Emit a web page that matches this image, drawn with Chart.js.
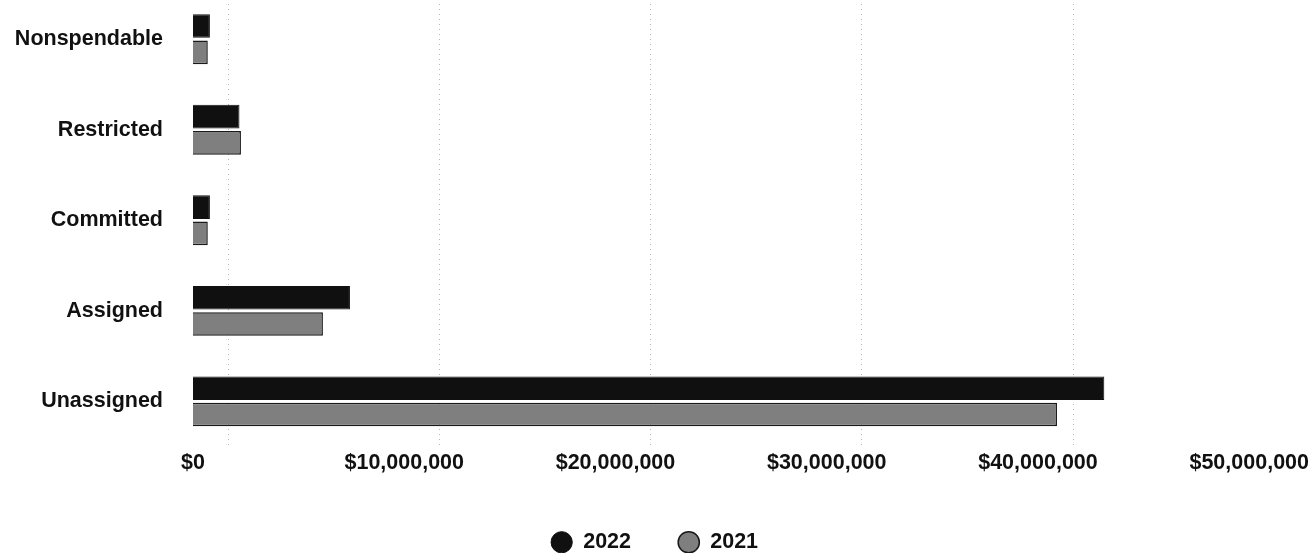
<!DOCTYPE html>
<html>
<head>
<meta charset="utf-8">
<script src="https://cdn.jsdelivr.net/npm/chart.js@4/dist/chart.umd.min.js"></script>
<style>
  body { margin: 0; background: #fff; overflow: hidden; }
  #wrap { position: absolute; left: 0; top: -49px; width: 1312px; height: 612px; }
</style>
</head>
<body>
<div id="wrap"><canvas id="fundBalanceChart"></canvas></div>
<script>
const categories = ["Nonspendable", "Restricted", "Committed", "Assigned", "Unassigned"];
const values2022 = [800000, 2200000, 800000, 7430000, 43140000];
const values2021 = [700000, 2270000, 700000, 6150000, 40900000];
const tickValues = [0, 10000000, 20000000, 30000000, 40000000, 50000000];
// the scanned gridlines sit a bit to the right of the tick labels
const gridShift = 1660000;

const font = { family: "'Liberation Sans', Arial, sans-serif", size: 21.5, weight: "bold" };
const textColor = "#111";

new Chart(document.getElementById("fundBalanceChart"), {
  type: "bar",
  data: {
    labels: categories,
    datasets: [
      {
        label: "2022",
        data: values2022,
        backgroundColor: "#101010",
        borderColor: "#101010",
        borderWidth: 1,
        categoryPercentage: 0.58,
        barPercentage: 0.9,
      },
      {
        label: "2021",
        data: values2021,
        backgroundColor: "#7f7f7f",
        borderColor: "#1a1a1a",
        borderWidth: 1.5,
        categoryPercentage: 0.58,
        barPercentage: 0.9,
      },
    ],
  },
  options: {
    indexAxis: "y",
    responsive: true,
    maintainAspectRatio: false,
    animation: false,
    layout: { padding: { left: 0, right: 3 } },
    scales: {
      x: {
        type: "linear",
        min: tickValues[0],
        max: tickValues[tickValues.length - 1],
        grid: { display: false, drawTicks: false },
        border: { display: false },
        afterBuildTicks: (scale) => {
          scale.ticks = tickValues.map((v) => ({ value: v }));
        },
        afterFit: (scale) => {
          scale.height += 6;
        },
        ticks: {
          padding: 3,
          color: textColor,
          font: font,
          callback: (v) => "$" + v.toLocaleString("en-US"),
        },
      },
      x2: {
        type: "linear",
        position: "top",
        min: tickValues[0] - gridShift,
        max: tickValues[tickValues.length - 1] - gridShift,
        grid: { color: "#b5b5b5", lineWidth: 1, drawTicks: false },
        border: { display: false, dash: [1, 4] },
        ticks: { display: false },
        afterBuildTicks: (scale) => {
          scale.ticks = tickValues.slice(0, -1).map((v) => ({ value: v }));
        },
        afterFit: (scale) => {
          scale.height = 0;
        },
      },
      y: {
        grid: { display: false, drawTicks: false },
        border: { display: false },
        ticks: { padding: 30, color: textColor, font: font },
        afterFit: (scale) => {
          scale.width = 193;
        },
      },
    },
    plugins: {
      legend: {
        position: "bottom",
        labels: {
          usePointStyle: true,
          pointStyle: "circle",
          boxWidth: 21.5,
          boxHeight: 15,
          padding: 47,
          color: textColor,
          font: font,
        },
      },
      tooltip: { enabled: false },
    },
  },
});
</script>
</body>
</html>
